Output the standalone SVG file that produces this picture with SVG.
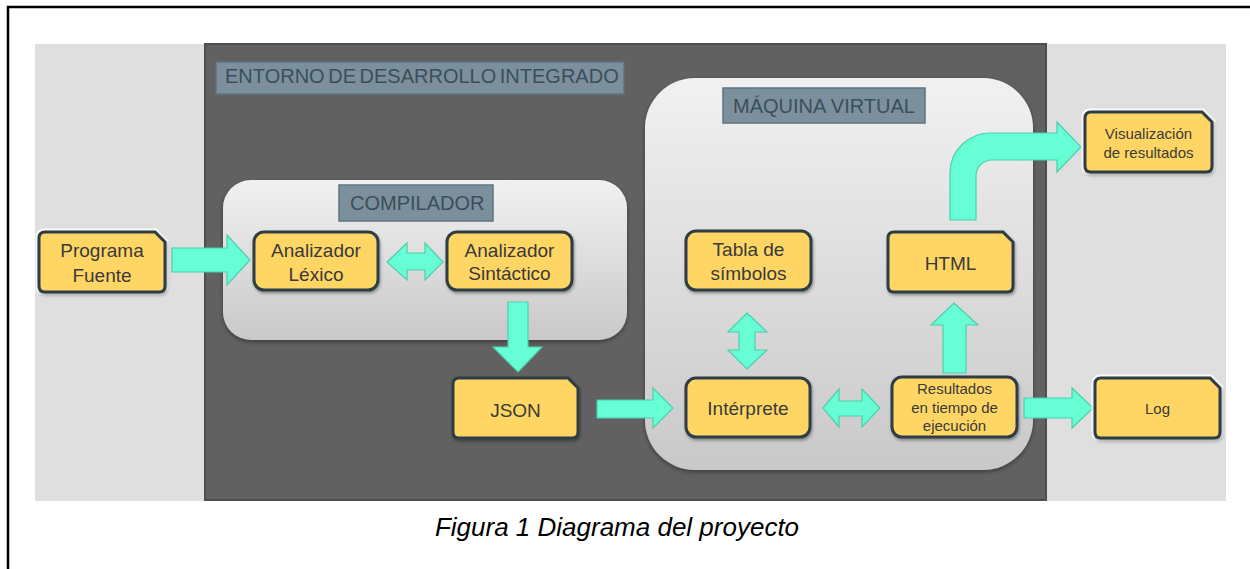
<svg xmlns="http://www.w3.org/2000/svg" width="1250" height="569" viewBox="0 0 1250 569">
<style>
.t{font-family:"Liberation Sans",Arial,sans-serif;fill:#3a3a3a;text-anchor:middle}
.n19{font-size:19px}
.n15{font-size:15px}
.lbl{fill:#7b909c;stroke:#5f7482;stroke-width:1.5}
.lt{font-family:"Liberation Sans",Arial,sans-serif;font-size:20px;fill:#3b4e5b}
.node{fill:#ffd664;stroke:#2f3d45;stroke-width:3;filter:url(#sh)}
.glow{fill:none;stroke:#ffffff;stroke-width:7;opacity:0.9}
.arr{fill:#67fdd5;stroke:#4ccfae;stroke-width:1.2}
</style>
<defs>
<linearGradient id="gp" x1="0" y1="0" x2="0" y2="1">
<stop offset="0" stop-color="#f1f1f1"/>
<stop offset="1" stop-color="#c9c9c9"/>
</linearGradient>
<filter id="sh" x="-10%" y="-10%" width="130%" height="140%">
<feDropShadow dx="1" dy="2" stdDeviation="1.5" flood-color="#000" flood-opacity="0.35"/>
</filter>
<filter id="psh" x="-5%" y="-5%" width="110%" height="115%">
<feDropShadow dx="0" dy="2" stdDeviation="2" flood-color="#000" flood-opacity="0.4"/>
</filter>
</defs>

<path d="M8,569 V7 H1250" fill="none" stroke="#000" stroke-width="2.5"/>
<rect x="35" y="44" width="1191" height="457" fill="#dfdfdf"/>
<rect x="205" y="44" width="841" height="456" fill="#616161" stroke="#4e4e4e" stroke-width="2"/>

<g id="ide-label">
<rect class="lbl" x="216" y="62" width="408" height="32"/>
<text class="lt" x="225" y="83" font-size="19.6" word-spacing="-2">ENTORNO DE DESARROLLO INTEGRADO</text>
</g>

<g id="compilador">
<rect x="223" y="180" width="404" height="160" rx="28" fill="url(#gp)" filter="url(#psh)"/>
<rect class="lbl" x="339" y="185" width="154" height="36"/>
<text class="lt" x="350" y="210">COMPILADOR</text>
</g>

<g id="maquina-virtual">
<rect x="645" y="78" width="388" height="392" rx="50" fill="url(#gp)" filter="url(#psh)"/>
<rect class="lbl" x="723" y="88" width="202" height="35"/>
<text class="lt" x="733" y="113">MÁQUINA VIRTUAL</text>
</g>

<g id="connectors">
<polygon class="arr" points="172,248 227,248 227,235 250,260 227,285 227,272 172,272"/>
<polygon class="arr" points="387,262 407,243 407,253 425,253 425,243 443,262 425,280 425,270 407,270 407,280"/>
<polygon class="arr" points="508,302 528,302 528,347 542,347 518,372 493,347 508,347"/>
<polygon class="arr" points="597,400 653,400 653,388 673,408 653,428 653,418 597,418"/>
<polygon class="arr" points="747,313 767,332 755,332 755,350 767,350 747,369 728,350 739,350 739,332 728,332"/>
<polygon class="arr" points="823,408 839,389 839,401 862,401 862,389 880,408 862,427 862,416 839,416 839,427"/>
<polygon class="arr" points="943,373 943,325 931,325 954,303 978,325 966,325 966,373"/>
<polygon class="arr" points="1024,398 1072,398 1072,388 1093,408 1072,428 1072,418 1024,418"/>
<path class="arr" d="M950,220 V173 A40,40 0 0 1 990,133 H1057 V122 L1081,147 L1057,172 V160 H992 A16,16 0 0 0 976,176 V220 Z"/>
</g>

<g id="programa-fuente">
<path class="glow" d="M45,232 H155 L165,242 V286 Q165,292 159,292 H45 Q39,292 39,286 V238 Q39,232 45,232 Z"/>
<path class="node" d="M45,232 H155 L165,242 V286 Q165,292 159,292 H45 Q39,292 39,286 V238 Q39,232 45,232 Z"/>
<text class="t n19" x="102" y="257">Programa</text>
<text class="t n19" x="102" y="282">Fuente</text>
</g>

<g id="analizador-lexico">
<rect class="node" x="254" y="232" width="124" height="58" rx="10"/>
<text class="t n19" x="316" y="257">Analizador</text>
<text class="t n19" x="316" y="281">Léxico</text>
</g>

<g id="analizador-sintactico">
<rect class="node" x="447" y="232" width="125" height="58" rx="10"/>
<text class="t n19" x="509.5" y="257">Analizador</text>
<text class="t n19" x="509.5" y="280">Sintáctico</text>
</g>

<g id="json">
<path class="node" d="M459,378 H568 L578,388 V432 Q578,438 572,438 H459 Q453,438 453,432 V384 Q453,378 459,378 Z"/>
<text class="t n19" x="515.5" y="417">JSON</text>
</g>

<g id="tabla-simbolos">
<rect class="node" x="686" y="231" width="125" height="59" rx="10"/>
<text class="t n19" x="748.5" y="256">Tabla de</text>
<text class="t n19" x="748.5" y="280">símbolos</text>
</g>

<g id="interprete">
<rect class="node" x="686" y="378" width="124" height="59" rx="10"/>
<text class="t n19" x="748" y="415">Intérprete</text>
</g>

<g id="html">
<path class="node" d="M894,232 H1003 L1013,242 V286 Q1013,292 1007,292 H894 Q888,292 888,286 V238 Q888,232 894,232 Z"/>
<text class="t n19" x="950.5" y="270">HTML</text>
</g>

<g id="resultados">
<rect class="node" x="892" y="377" width="125" height="60" rx="10"/>
<text class="t n15" x="954.5" y="394">Resultados</text>
<text class="t n15" x="954.5" y="413">en tiempo de</text>
<text class="t n15" x="954.5" y="431">ejecución</text>
</g>

<g id="visualizacion">
<path class="glow" d="M1091,112 H1202 L1212,122 V166 Q1212,172 1206,172 H1091 Q1085,172 1085,166 V118 Q1085,112 1091,112 Z"/>
<path class="node" d="M1091,112 H1202 L1212,122 V166 Q1212,172 1206,172 H1091 Q1085,172 1085,166 V118 Q1085,112 1091,112 Z"/>
<text class="t n15" x="1148.5" y="139">Visualización</text>
<text class="t n15" x="1148.5" y="158">de resultados</text>
</g>

<g id="log">
<path class="glow" d="M1101,378 H1210 L1220,388 V432 Q1220,438 1214,438 H1101 Q1095,438 1095,432 V384 Q1095,378 1101,378 Z"/>
<path class="node" d="M1101,378 H1210 L1220,388 V432 Q1220,438 1214,438 H1101 Q1095,438 1095,432 V384 Q1095,378 1101,378 Z"/>
<text class="t n15" x="1157.5" y="414">Log</text>
</g>

<text x="617" y="536" font-family="'Liberation Sans',Arial,sans-serif" font-size="26" font-style="italic" fill="#000" text-anchor="middle">Figura 1 Diagrama del proyecto</text>
</svg>
